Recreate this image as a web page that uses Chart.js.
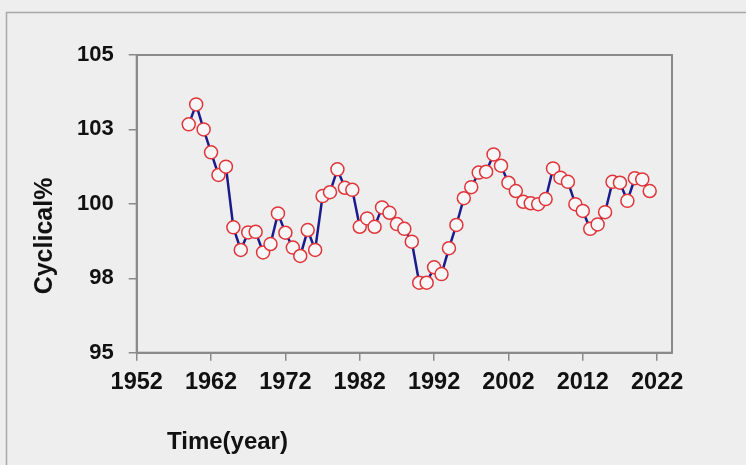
<!DOCTYPE html>
<html>
<head>
<meta charset="utf-8">
<script src="https://cdn.jsdelivr.net/npm/chart.js@4.4.1/dist/chart.umd.min.js"></script>
<style>
  html, body { margin: 0; padding: 0; background: #eeeeee; }
  canvas { display: block; }
</style>
</head>
<body>
<canvas id="cycChart" width="746" height="465"></canvas>
<script>
// years and the cyclical component (%)
const years = [];
for (let y = 1959; y <= 2021; y++) years.push(y);

const cyclical = [
  102.67, 103.34, 102.50, 101.73, 100.97, 101.25, 99.21, 98.45, 99.04, 99.06,
  98.37, 98.65, 99.68, 99.03, 98.53, 98.25, 99.12, 98.45, 100.26, 100.39,
  101.16, 100.54, 100.47, 99.23, 99.51, 99.23, 99.88, 99.70, 99.32, 99.16,
  98.73, 97.35, 97.35, 97.87, 97.64, 98.51, 99.29, 100.19, 100.56, 101.05,
  101.08, 101.66, 101.28, 100.71, 100.43, 100.07, 100.02, 99.99, 100.16, 101.19,
  100.88, 100.74, 99.99, 99.76, 99.16, 99.31, 99.72, 100.74, 100.71, 100.10,
  100.86, 100.82, 100.43
];

const xTicks = [1952, 1962, 1972, 1982, 1992, 2002, 2012, 2022];
const yTicks = [95, 97.5, 100, 102.5, 105];

const points = years.map((yr, i) => ({ x: yr, y: cyclical[i] }));

const axisGray = '#8a8a8a';
const fam = '"Liberation Sans", Arial, sans-serif';

// frame round the page, box round the plot, and both axis titles
const decor = {
  id: 'decor',
  beforeDraw(chart) {
    const ctx = chart.ctx;
    ctx.save();
    ctx.fillStyle = '#eeeeee';
    ctx.fillRect(0, 0, chart.width, chart.height);
    ctx.strokeStyle = '#a8a8a8';
    ctx.lineWidth = 1.5;
    ctx.beginPath();
    ctx.moveTo(6.5, chart.height);
    ctx.lineTo(6.5, 12.5);
    ctx.lineTo(chart.width, 12.5);
    ctx.stroke();
    ctx.restore();
  },
  afterDraw(chart) {
    const ctx = chart.ctx;
    const a = chart.chartArea;
    ctx.save();
    ctx.strokeStyle = axisGray;
    ctx.lineWidth = 2;
    ctx.strokeRect(a.left, a.top, a.right - a.left, a.bottom - a.top);
    ctx.fillStyle = '#111';
    ctx.textBaseline = 'middle';
    ctx.font = 'bold 24px ' + fam;
    ctx.fillText('Time(year)', 167, 442);
    ctx.translate(45, 236);
    ctx.rotate(-Math.PI / 2);
    ctx.textAlign = 'center';
    ctx.font = 'bold 25px ' + fam;
    ctx.fillText('Cyclical%', 0, 0);
    ctx.restore();
  }
};

new Chart(document.getElementById('cycChart'), {
  type: 'line',
  data: {
    datasets: [{
      label: 'Cyclical%',
      data: points,
      borderColor: '#1b1b8c',
      borderWidth: 2.5,
      tension: 0,
      pointRadius: 6.5,
      pointBorderWidth: 1.5,
      pointBorderColor: '#e0353a',
      pointBackgroundColor: '#f7f7f7'
    }]
  },
  options: {
    responsive: false,
    animation: false,
    layout: { padding: { left: 20, top: 55, right: 74, bottom: 0 } },
    plugins: { legend: { display: false }, tooltip: { enabled: false } },
    scales: {
      x: {
        type: 'linear',
        min: 1952,
        max: 2024,
        afterBuildTicks: (s) => { s.ticks = xTicks.map(v => ({ value: v })); },
        afterFit: (s) => { s.height = 112.3; },
        grid: { drawOnChartArea: false, drawTicks: true, tickLength: 8, color: axisGray, lineWidth: 1.5 },
        border: { color: axisGray, width: 2 },
        ticks: { color: '#111', font: { family: fam, size: 23.5, weight: 'bold' }, padding: 8, maxRotation: 0, callback: v => String(v) }
      },
      y: {
        min: 95,
        max: 105,
        afterBuildTicks: (s) => { s.ticks = yTicks.map(v => ({ value: v })); },
        afterFit: (s) => { s.width = 116.7; },
        grid: { drawOnChartArea: false, drawTicks: true, tickLength: 8, color: axisGray, lineWidth: 1.5 },
        border: { color: axisGray, width: 2 },
        ticks: { color: '#111', font: { family: fam, size: 22, weight: 'bold' }, padding: 15, callback: v => String(Math.round(v)) }
      }
    }
  },
  plugins: [decor]
});
</script>
</body>
</html>
